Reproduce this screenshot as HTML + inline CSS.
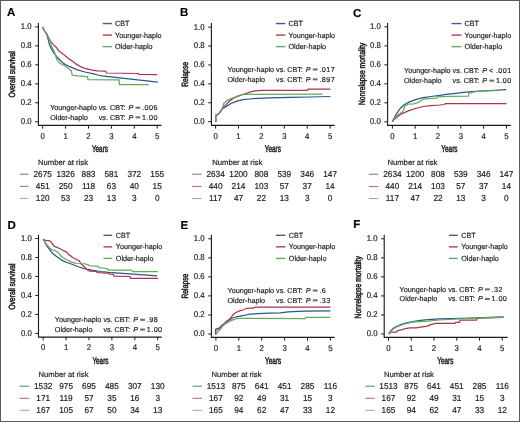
<!DOCTYPE html>
<html><head><meta charset="utf-8"><style>
html,body{margin:0;padding:0;background:#fff;}
svg{display:block;will-change:transform;filter:blur(0.35px);}
text{font-family:"Liberation Sans", sans-serif;text-rendering:geometricPrecision;stroke:#222;stroke-width:0.18px;}
</style></head><body>
<svg width="520" height="422" viewBox="0 0 520 422">
<rect x="0" y="0" width="520" height="422" fill="#fff"/>
<text x="7" y="16.2" font-size="11.5" font-weight="bold" fill="#000">A</text>
<path d="M38.4 23V125.4H161.5" fill="none" stroke="#1a1a1a" stroke-width="1.1"/>
<path d="M35.2 26.9H38.4" stroke="#1a1a1a" stroke-width="1"/>
<text transform="translate(31.7 29.3) scale(0.93 1)" font-size="8.4" text-anchor="end" fill="#222">1.0</text>
<path d="M35.2 45.88H38.4" stroke="#1a1a1a" stroke-width="1"/>
<text transform="translate(31.7 48.28) scale(0.93 1)" font-size="8.4" text-anchor="end" fill="#222">0.8</text>
<path d="M35.2 64.86H38.4" stroke="#1a1a1a" stroke-width="1"/>
<text transform="translate(31.7 67.26) scale(0.93 1)" font-size="8.4" text-anchor="end" fill="#222">0.6</text>
<path d="M35.2 83.84H38.4" stroke="#1a1a1a" stroke-width="1"/>
<text transform="translate(31.7 86.24) scale(0.93 1)" font-size="8.4" text-anchor="end" fill="#222">0.4</text>
<path d="M35.2 102.82H38.4" stroke="#1a1a1a" stroke-width="1"/>
<text transform="translate(31.7 105.22) scale(0.93 1)" font-size="8.4" text-anchor="end" fill="#222">0.2</text>
<path d="M35.2 121.8H38.4" stroke="#1a1a1a" stroke-width="1"/>
<text transform="translate(31.7 124.2) scale(0.93 1)" font-size="8.4" text-anchor="end" fill="#222">0.0</text>
<path d="M42.7 125.4V128.6" stroke="#1a1a1a" stroke-width="1"/>
<text transform="translate(42.7 138.7) scale(0.93 1)" font-size="8.4" text-anchor="middle" fill="#222">0</text>
<path d="M65.6 125.4V128.6" stroke="#1a1a1a" stroke-width="1"/>
<text transform="translate(65.6 138.7) scale(0.93 1)" font-size="8.4" text-anchor="middle" fill="#222">1</text>
<path d="M88.5 125.4V128.6" stroke="#1a1a1a" stroke-width="1"/>
<text transform="translate(88.5 138.7) scale(0.93 1)" font-size="8.4" text-anchor="middle" fill="#222">2</text>
<path d="M111.4 125.4V128.6" stroke="#1a1a1a" stroke-width="1"/>
<text transform="translate(111.4 138.7) scale(0.93 1)" font-size="8.4" text-anchor="middle" fill="#222">3</text>
<path d="M134.3 125.4V128.6" stroke="#1a1a1a" stroke-width="1"/>
<text transform="translate(134.3 138.7) scale(0.93 1)" font-size="8.4" text-anchor="middle" fill="#222">4</text>
<path d="M157.2 125.4V128.6" stroke="#1a1a1a" stroke-width="1"/>
<text transform="translate(157.2 138.7) scale(0.93 1)" font-size="8.4" text-anchor="middle" fill="#222">5</text>
<text transform="translate(99.95 152.4) scale(0.64 1)" font-size="10.0" text-anchor="middle" fill="#222" style="stroke-width:0.5px">Years</text>
<text transform="translate(15.2 74.4) rotate(-90) scale(0.755 1)" font-size="9.0" text-anchor="middle" fill="#222" style="stroke-width:0.5px">Overall survival</text>
<path d="M102.7 23.55H111.9" stroke="#4a5f88" stroke-width="1.4"/>
<text transform="translate(115 26.15) scale(0.96 1)" font-size="7.5" fill="#222">CBT</text>
<path d="M102.7 35.1H111.9" stroke="#b8395a" stroke-width="1.4"/>
<text transform="translate(115 37.7) scale(0.96 1)" font-size="7.5" fill="#222">Younger-haplo</text>
<path d="M102.7 46.65H111.9" stroke="#62ad62" stroke-width="1.4"/>
<text transform="translate(115 49.25) scale(0.96 1)" font-size="7.5" fill="#222">Older-haplo</text>
<text x="50.2" y="110.1" font-size="7.2" fill="#222">Younger-haplo</text>
<text x="98.78" y="110.1" font-size="7.2" fill="#222">vs. CBT:</text>
<text x="128.5" y="110.1" font-size="7.2" font-style="italic" fill="#222">P</text>
<rect x="135.5" y="106.7" width="4.8" height="2.1" fill="#707070"/>
<text x="142.1" y="110.1" font-size="7.2" letter-spacing="0.45" fill="#222">.006</text>
<text x="50.2" y="119.7" font-size="7.2" fill="#222">Older-haplo</text>
<text x="98.78" y="119.7" font-size="7.2" fill="#222">vs. CBT:</text>
<text x="128.5" y="119.7" font-size="7.2" font-style="italic" fill="#222">P</text>
<rect x="135.5" y="116.3" width="4.8" height="2.1" fill="#707070"/>
<text x="142.1" y="119.7" font-size="7.2" letter-spacing="0.45" fill="#222">1.00</text>
<text x="38" y="164.8" font-size="7.7" fill="#222">Number at risk</text>
<path d="M19.9 174.2H28.5" stroke="#2f5585" stroke-width="1" stroke-opacity="0.8"/>
<text transform="translate(42.7 177) scale(0.95 1)" font-size="8.7" text-anchor="middle" fill="#222">2675</text>
<text transform="translate(65.6 177) scale(0.95 1)" font-size="8.7" text-anchor="middle" fill="#222">1326</text>
<text transform="translate(88.5 177) scale(0.95 1)" font-size="8.7" text-anchor="middle" fill="#222">883</text>
<text transform="translate(111.4 177) scale(0.95 1)" font-size="8.7" text-anchor="middle" fill="#222">581</text>
<text transform="translate(134.3 177) scale(0.95 1)" font-size="8.7" text-anchor="middle" fill="#222">372</text>
<text transform="translate(157.2 177) scale(0.95 1)" font-size="8.7" text-anchor="middle" fill="#222">155</text>
<path d="M19.9 186.3H28.5" stroke="#b03050" stroke-width="1" stroke-opacity="0.8"/>
<text transform="translate(42.7 189.1) scale(0.95 1)" font-size="8.7" text-anchor="middle" fill="#222">451</text>
<text transform="translate(65.6 189.1) scale(0.95 1)" font-size="8.7" text-anchor="middle" fill="#222">250</text>
<text transform="translate(88.5 189.1) scale(0.95 1)" font-size="8.7" text-anchor="middle" fill="#222">118</text>
<text transform="translate(111.4 189.1) scale(0.95 1)" font-size="8.7" text-anchor="middle" fill="#222">63</text>
<text transform="translate(134.3 189.1) scale(0.95 1)" font-size="8.7" text-anchor="middle" fill="#222">40</text>
<text transform="translate(157.2 189.1) scale(0.95 1)" font-size="8.7" text-anchor="middle" fill="#222">15</text>
<path d="M19.9 198.4H28.5" stroke="#5faa5f" stroke-width="1" stroke-opacity="0.8"/>
<text transform="translate(42.7 201.2) scale(0.95 1)" font-size="8.7" text-anchor="middle" fill="#222">120</text>
<text transform="translate(65.6 201.2) scale(0.95 1)" font-size="8.7" text-anchor="middle" fill="#222">53</text>
<text transform="translate(88.5 201.2) scale(0.95 1)" font-size="8.7" text-anchor="middle" fill="#222">23</text>
<text transform="translate(111.4 201.2) scale(0.95 1)" font-size="8.7" text-anchor="middle" fill="#222">13</text>
<text transform="translate(134.3 201.2) scale(0.95 1)" font-size="8.7" text-anchor="middle" fill="#222">3</text>
<text transform="translate(157.2 201.2) scale(0.95 1)" font-size="8.7" text-anchor="middle" fill="#222">0</text>
<path d="M42.6 27 L44.6 31 L46.6 33.8 L48.1 39.2 L49.5 44.9 L51.8 49.6 L54.2 53.4 L57.1 57.2 L60.4 60.5 L64.2 63.9 L69.8 66.7 L77.4 69.8 L85 72 L92.6 73.6 L98 75 L102 75.8 L157.9 82.1" fill="none" stroke="#2f5585" stroke-width="1.25" stroke-linejoin="round"/>
<path d="M42.6 27 L44.6 31 L46.6 33.8 L48.5 37.5 L50.4 41.1 L53.3 44.4 L56.6 47.7 L59 51.1 L62.3 53.4 L65.1 55.8 L68.4 58.6 L72.2 61 L76 63.9 L80.5 66.7 L85 68.3 L91.1 69.8 L97.1 70.8 L105.6 71.2 L106.5 73 L138.2 73.5 L139 74.5 L157.1 74.6" fill="none" stroke="#b03050" stroke-width="1.25" stroke-linejoin="round"/>
<path d="M42.6 27 L44.6 31 L46.6 33.8 L48.5 37.5 L50.4 41.1 L51.4 45.9 L53.7 50.1 L55.6 55.3 L56.6 59.1 L58.5 62 L61.3 63.9 L64.5 65.8 L68.3 68.3 L70.6 70.5 L71.5 71 L72.1 75.1 L77.4 75.8 L86.5 76.6 L87.5 76.6 L88 79.6 L119.2 79.9 L119.4 84.6 L148.8 84.6" fill="none" stroke="#5faa5f" stroke-width="1.25" stroke-linejoin="round"/>
<text x="180" y="16.4" font-size="11.5" font-weight="bold" fill="#000">B</text>
<path d="M211.4 23V125.4H334.6" fill="none" stroke="#1a1a1a" stroke-width="1.1"/>
<path d="M208.2 27.1H211.4" stroke="#1a1a1a" stroke-width="1"/>
<text transform="translate(204.7 29.5) scale(0.93 1)" font-size="8.4" text-anchor="end" fill="#222">1.0</text>
<path d="M208.2 46.02H211.4" stroke="#1a1a1a" stroke-width="1"/>
<text transform="translate(204.7 48.42) scale(0.93 1)" font-size="8.4" text-anchor="end" fill="#222">0.8</text>
<path d="M208.2 64.94H211.4" stroke="#1a1a1a" stroke-width="1"/>
<text transform="translate(204.7 67.34) scale(0.93 1)" font-size="8.4" text-anchor="end" fill="#222">0.6</text>
<path d="M208.2 83.86H211.4" stroke="#1a1a1a" stroke-width="1"/>
<text transform="translate(204.7 86.26) scale(0.93 1)" font-size="8.4" text-anchor="end" fill="#222">0.4</text>
<path d="M208.2 102.78H211.4" stroke="#1a1a1a" stroke-width="1"/>
<text transform="translate(204.7 105.18) scale(0.93 1)" font-size="8.4" text-anchor="end" fill="#222">0.2</text>
<path d="M208.2 121.7H211.4" stroke="#1a1a1a" stroke-width="1"/>
<text transform="translate(204.7 124.1) scale(0.93 1)" font-size="8.4" text-anchor="end" fill="#222">0.0</text>
<path d="M215.6 125.4V128.6" stroke="#1a1a1a" stroke-width="1"/>
<text transform="translate(215.6 138.7) scale(0.93 1)" font-size="8.4" text-anchor="middle" fill="#222">0</text>
<path d="M238.5 125.4V128.6" stroke="#1a1a1a" stroke-width="1"/>
<text transform="translate(238.5 138.7) scale(0.93 1)" font-size="8.4" text-anchor="middle" fill="#222">1</text>
<path d="M261.4 125.4V128.6" stroke="#1a1a1a" stroke-width="1"/>
<text transform="translate(261.4 138.7) scale(0.93 1)" font-size="8.4" text-anchor="middle" fill="#222">2</text>
<path d="M284.3 125.4V128.6" stroke="#1a1a1a" stroke-width="1"/>
<text transform="translate(284.3 138.7) scale(0.93 1)" font-size="8.4" text-anchor="middle" fill="#222">3</text>
<path d="M307.2 125.4V128.6" stroke="#1a1a1a" stroke-width="1"/>
<text transform="translate(307.2 138.7) scale(0.93 1)" font-size="8.4" text-anchor="middle" fill="#222">4</text>
<path d="M330.1 125.4V128.6" stroke="#1a1a1a" stroke-width="1"/>
<text transform="translate(330.1 138.7) scale(0.93 1)" font-size="8.4" text-anchor="middle" fill="#222">5</text>
<text transform="translate(272.85 152.4) scale(0.64 1)" font-size="10.0" text-anchor="middle" fill="#222" style="stroke-width:0.5px">Years</text>
<text transform="translate(188.2 74.4) rotate(-90) scale(0.755 1)" font-size="9.0" text-anchor="middle" fill="#222" style="stroke-width:0.5px">Relapse</text>
<path d="M275.8 23.55H285.4" stroke="#4a5f88" stroke-width="1.4"/>
<text transform="translate(288.5 26.15) scale(0.96 1)" font-size="7.5" fill="#222">CBT</text>
<path d="M275.8 35.1H285.4" stroke="#b8395a" stroke-width="1.4"/>
<text transform="translate(288.5 37.7) scale(0.96 1)" font-size="7.5" fill="#222">Younger-haplo</text>
<path d="M275.8 46.65H285.4" stroke="#62ad62" stroke-width="1.4"/>
<text transform="translate(288.5 49.25) scale(0.96 1)" font-size="7.5" fill="#222">Older-haplo</text>
<text x="227.5" y="71.8" font-size="7.2" fill="#222">Younger-haplo</text>
<text x="276.08" y="71.8" font-size="7.2" fill="#222">vs. CBT:</text>
<text x="305.8" y="71.8" font-size="7.2" font-style="italic" fill="#222">P</text>
<rect x="312.8" y="68.4" width="4.8" height="2.1" fill="#707070"/>
<text x="319.4" y="71.8" font-size="7.2" letter-spacing="0.45" fill="#222">.017</text>
<text x="227.5" y="81.7" font-size="7.2" fill="#222">Older-haplo</text>
<text x="276.08" y="81.7" font-size="7.2" fill="#222">vs. CBT:</text>
<text x="305.8" y="81.7" font-size="7.2" font-style="italic" fill="#222">P</text>
<rect x="312.8" y="78.3" width="4.8" height="2.1" fill="#707070"/>
<text x="319.4" y="81.7" font-size="7.2" letter-spacing="0.45" fill="#222">.897</text>
<text x="212.3" y="164.9" font-size="7.7" fill="#222">Number at risk</text>
<path d="M192.3 174.2H201.5" stroke="#2f5585" stroke-width="1" stroke-opacity="0.8"/>
<text transform="translate(215.6 177) scale(0.95 1)" font-size="8.7" text-anchor="middle" fill="#222">2634</text>
<text transform="translate(238.5 177) scale(0.95 1)" font-size="8.7" text-anchor="middle" fill="#222">1200</text>
<text transform="translate(261.4 177) scale(0.95 1)" font-size="8.7" text-anchor="middle" fill="#222">808</text>
<text transform="translate(284.3 177) scale(0.95 1)" font-size="8.7" text-anchor="middle" fill="#222">539</text>
<text transform="translate(307.2 177) scale(0.95 1)" font-size="8.7" text-anchor="middle" fill="#222">346</text>
<text transform="translate(330.1 177) scale(0.95 1)" font-size="8.7" text-anchor="middle" fill="#222">147</text>
<path d="M192.3 186.4H201.5" stroke="#b03050" stroke-width="1" stroke-opacity="0.8"/>
<text transform="translate(215.6 189.2) scale(0.95 1)" font-size="8.7" text-anchor="middle" fill="#222">440</text>
<text transform="translate(238.5 189.2) scale(0.95 1)" font-size="8.7" text-anchor="middle" fill="#222">214</text>
<text transform="translate(261.4 189.2) scale(0.95 1)" font-size="8.7" text-anchor="middle" fill="#222">103</text>
<text transform="translate(284.3 189.2) scale(0.95 1)" font-size="8.7" text-anchor="middle" fill="#222">57</text>
<text transform="translate(307.2 189.2) scale(0.95 1)" font-size="8.7" text-anchor="middle" fill="#222">37</text>
<text transform="translate(330.1 189.2) scale(0.95 1)" font-size="8.7" text-anchor="middle" fill="#222">14</text>
<path d="M192.3 198.5H201.5" stroke="#5faa5f" stroke-width="1" stroke-opacity="0.8"/>
<text transform="translate(215.6 201.3) scale(0.95 1)" font-size="8.7" text-anchor="middle" fill="#222">117</text>
<text transform="translate(238.5 201.3) scale(0.95 1)" font-size="8.7" text-anchor="middle" fill="#222">47</text>
<text transform="translate(261.4 201.3) scale(0.95 1)" font-size="8.7" text-anchor="middle" fill="#222">22</text>
<text transform="translate(284.3 201.3) scale(0.95 1)" font-size="8.7" text-anchor="middle" fill="#222">13</text>
<text transform="translate(307.2 201.3) scale(0.95 1)" font-size="8.7" text-anchor="middle" fill="#222">3</text>
<text transform="translate(330.1 201.3) scale(0.95 1)" font-size="8.7" text-anchor="middle" fill="#222">0</text>
<path d="M215.7 122 L215.7 115.3 L217.1 114.9 L219.5 113 L222.3 108.7 L224.2 107.7 L227.1 105.9 L230.9 103.5 L234.6 102.1 L238.4 100.6 L243.2 99.7 L250 99 L258 98.3 L269 97.8 L290 97.4 L310 97 L330.4 96.5" fill="none" stroke="#2f5585" stroke-width="1.25" stroke-linejoin="round"/>
<path d="M215.7 122 L215.7 115.3 L217.1 114.9 L219.5 113 L222.3 108.7 L223.7 106.5 L225.2 105.4 L229 101.6 L232.7 98.7 L236.5 96.8 L240.3 95.4 L244.1 94 L247.9 92.8 L250 92.1 L255 90.9 L262.6 90.3 L307.3 90.3 L308 89.2 L330.4 89.2" fill="none" stroke="#b03050" stroke-width="1.25" stroke-linejoin="round"/>
<path d="M215.7 122 L215.7 115.3 L217.1 114.9 L219.5 113 L222.3 108.7 L223.7 103.5 L227.1 100.6 L231.8 98.3 L235.6 96.8 L239.4 95.4 L243.2 94.5 L247.9 94.3 L322.7 94.2" fill="none" stroke="#5faa5f" stroke-width="1.25" stroke-linejoin="round"/>
<text x="353.1" y="16.8" font-size="11.5" font-weight="bold" fill="#000">C</text>
<path d="M387.6 23V125.4H510.8" fill="none" stroke="#1a1a1a" stroke-width="1.1"/>
<path d="M384.4 26.9H387.6" stroke="#1a1a1a" stroke-width="1"/>
<text transform="translate(380.9 29.3) scale(0.93 1)" font-size="8.4" text-anchor="end" fill="#222">1.0</text>
<path d="M384.4 45.88H387.6" stroke="#1a1a1a" stroke-width="1"/>
<text transform="translate(380.9 48.28) scale(0.93 1)" font-size="8.4" text-anchor="end" fill="#222">0.8</text>
<path d="M384.4 64.86H387.6" stroke="#1a1a1a" stroke-width="1"/>
<text transform="translate(380.9 67.26) scale(0.93 1)" font-size="8.4" text-anchor="end" fill="#222">0.6</text>
<path d="M384.4 83.84H387.6" stroke="#1a1a1a" stroke-width="1"/>
<text transform="translate(380.9 86.24) scale(0.93 1)" font-size="8.4" text-anchor="end" fill="#222">0.4</text>
<path d="M384.4 102.82H387.6" stroke="#1a1a1a" stroke-width="1"/>
<text transform="translate(380.9 105.22) scale(0.93 1)" font-size="8.4" text-anchor="end" fill="#222">0.2</text>
<path d="M384.4 121.8H387.6" stroke="#1a1a1a" stroke-width="1"/>
<text transform="translate(380.9 124.2) scale(0.93 1)" font-size="8.4" text-anchor="end" fill="#222">0.0</text>
<path d="M392.4 125.4V128.6" stroke="#1a1a1a" stroke-width="1"/>
<text transform="translate(392.4 138.7) scale(0.93 1)" font-size="8.4" text-anchor="middle" fill="#222">0</text>
<path d="M415.2 125.4V128.6" stroke="#1a1a1a" stroke-width="1"/>
<text transform="translate(415.2 138.7) scale(0.93 1)" font-size="8.4" text-anchor="middle" fill="#222">1</text>
<path d="M438 125.4V128.6" stroke="#1a1a1a" stroke-width="1"/>
<text transform="translate(438 138.7) scale(0.93 1)" font-size="8.4" text-anchor="middle" fill="#222">2</text>
<path d="M460.8 125.4V128.6" stroke="#1a1a1a" stroke-width="1"/>
<text transform="translate(460.8 138.7) scale(0.93 1)" font-size="8.4" text-anchor="middle" fill="#222">3</text>
<path d="M483.6 125.4V128.6" stroke="#1a1a1a" stroke-width="1"/>
<text transform="translate(483.6 138.7) scale(0.93 1)" font-size="8.4" text-anchor="middle" fill="#222">4</text>
<path d="M506.4 125.4V128.6" stroke="#1a1a1a" stroke-width="1"/>
<text transform="translate(506.4 138.7) scale(0.93 1)" font-size="8.4" text-anchor="middle" fill="#222">5</text>
<text transform="translate(449.4 152.4) scale(0.64 1)" font-size="10.0" text-anchor="middle" fill="#222" style="stroke-width:0.5px">Years</text>
<text transform="translate(364.7 73.9) rotate(-90) scale(0.755 1)" font-size="9.0" text-anchor="middle" fill="#222" style="stroke-width:0.5px">Nonrelapse mortality</text>
<path d="M451.5 23.55H461.5" stroke="#4a5f88" stroke-width="1.4"/>
<text transform="translate(464.6 26.15) scale(0.96 1)" font-size="7.5" fill="#222">CBT</text>
<path d="M451.5 35.1H461.5" stroke="#b8395a" stroke-width="1.4"/>
<text transform="translate(464.6 37.7) scale(0.96 1)" font-size="7.5" fill="#222">Younger-haplo</text>
<path d="M451.5 46.65H461.5" stroke="#62ad62" stroke-width="1.4"/>
<text transform="translate(464.6 49.25) scale(0.96 1)" font-size="7.5" fill="#222">Older-haplo</text>
<text x="404" y="73.4" font-size="7.2" fill="#222">Younger-haplo</text>
<text x="452.58" y="73.4" font-size="7.2" fill="#222">vs. CBT:</text>
<text x="482.3" y="73.4" font-size="7.2" font-style="italic" fill="#222">P</text>
<text x="489.1" y="73.4" font-size="7.2" fill="#222">&lt;</text>
<text x="495.9" y="73.4" font-size="7.2" letter-spacing="0.45" fill="#222">.001</text>
<text x="404" y="83" font-size="7.2" fill="#222">Older-haplo</text>
<text x="452.58" y="83" font-size="7.2" fill="#222">vs. CBT:</text>
<text x="482.3" y="83" font-size="7.2" font-style="italic" fill="#222">P</text>
<rect x="489.3" y="79.6" width="4.8" height="2.1" fill="#707070"/>
<text x="495.9" y="83" font-size="7.2" letter-spacing="0.45" fill="#222">1.00</text>
<text x="387.4" y="165" font-size="7.7" fill="#222">Number at risk</text>
<path d="M368.8 174.2H378.2" stroke="#2f5585" stroke-width="1" stroke-opacity="0.8"/>
<text transform="translate(392.4 177) scale(0.95 1)" font-size="8.7" text-anchor="middle" fill="#222">2634</text>
<text transform="translate(415.2 177) scale(0.95 1)" font-size="8.7" text-anchor="middle" fill="#222">1200</text>
<text transform="translate(438 177) scale(0.95 1)" font-size="8.7" text-anchor="middle" fill="#222">808</text>
<text transform="translate(460.8 177) scale(0.95 1)" font-size="8.7" text-anchor="middle" fill="#222">539</text>
<text transform="translate(483.6 177) scale(0.95 1)" font-size="8.7" text-anchor="middle" fill="#222">346</text>
<text transform="translate(506.4 177) scale(0.95 1)" font-size="8.7" text-anchor="middle" fill="#222">147</text>
<path d="M368.8 186.6H378.2" stroke="#b03050" stroke-width="1" stroke-opacity="0.8"/>
<text transform="translate(392.4 189.4) scale(0.95 1)" font-size="8.7" text-anchor="middle" fill="#222">440</text>
<text transform="translate(415.2 189.4) scale(0.95 1)" font-size="8.7" text-anchor="middle" fill="#222">214</text>
<text transform="translate(438 189.4) scale(0.95 1)" font-size="8.7" text-anchor="middle" fill="#222">103</text>
<text transform="translate(460.8 189.4) scale(0.95 1)" font-size="8.7" text-anchor="middle" fill="#222">57</text>
<text transform="translate(483.6 189.4) scale(0.95 1)" font-size="8.7" text-anchor="middle" fill="#222">37</text>
<text transform="translate(506.4 189.4) scale(0.95 1)" font-size="8.7" text-anchor="middle" fill="#222">14</text>
<path d="M368.8 198.5H378.2" stroke="#5faa5f" stroke-width="1" stroke-opacity="0.8"/>
<text transform="translate(392.4 201.3) scale(0.95 1)" font-size="8.7" text-anchor="middle" fill="#222">117</text>
<text transform="translate(415.2 201.3) scale(0.95 1)" font-size="8.7" text-anchor="middle" fill="#222">47</text>
<text transform="translate(438 201.3) scale(0.95 1)" font-size="8.7" text-anchor="middle" fill="#222">22</text>
<text transform="translate(460.8 201.3) scale(0.95 1)" font-size="8.7" text-anchor="middle" fill="#222">13</text>
<text transform="translate(483.6 201.3) scale(0.95 1)" font-size="8.7" text-anchor="middle" fill="#222">3</text>
<text transform="translate(506.4 201.3) scale(0.95 1)" font-size="8.7" text-anchor="middle" fill="#222">0</text>
<path d="M392.3 121.6 L394.6 117.4 L397 113.1 L399.4 109.5 L400.5 108.2 L403.8 105 L407.7 102.7 L415.4 99.6 L423.1 97.7 L430.8 96.5 L440 95.3 L444.2 94.7 L453.8 93.6 L463.5 92.4 L475 91.3 L490 90.5 L506.2 89.7" fill="none" stroke="#2f5585" stroke-width="1.25" stroke-linejoin="round"/>
<path d="M392.3 121.6 L395.6 118.3 L398.5 116 L401.5 113.8 L407.7 111.2 L415.4 108.5 L423.1 106.5 L430.8 105.6 L440 105 L444.2 104.5 L445.5 103.6 L506.5 103.6" fill="none" stroke="#b03050" stroke-width="1.25" stroke-linejoin="round"/>
<path d="M392.3 121.6 L394.6 118.3 L397.5 115.5 L400.3 113.4 L402.3 112.3 L403.5 110 L404.6 106.5 L407.7 104.2 L413.8 103.8 L417.7 102.7 L420.8 100.8 L423.8 98.8 L436.9 98.1 L437.5 96.6 L468.3 96.2 L468.8 93.3 L475 91.6 L490 90.8 L498.5 90.4" fill="none" stroke="#5faa5f" stroke-width="1.25" stroke-linejoin="round"/>
<text x="7.5" y="228.8" font-size="11.5" font-weight="bold" fill="#000">D</text>
<path d="M38.5 234.8V337.1H161.7" fill="none" stroke="#1a1a1a" stroke-width="1.1"/>
<path d="M35.3 238.5H38.5" stroke="#1a1a1a" stroke-width="1"/>
<text transform="translate(31.8 240.9) scale(0.93 1)" font-size="8.4" text-anchor="end" fill="#222">1.0</text>
<path d="M35.3 257.48H38.5" stroke="#1a1a1a" stroke-width="1"/>
<text transform="translate(31.8 259.88) scale(0.93 1)" font-size="8.4" text-anchor="end" fill="#222">0.8</text>
<path d="M35.3 276.46H38.5" stroke="#1a1a1a" stroke-width="1"/>
<text transform="translate(31.8 278.86) scale(0.93 1)" font-size="8.4" text-anchor="end" fill="#222">0.6</text>
<path d="M35.3 295.44H38.5" stroke="#1a1a1a" stroke-width="1"/>
<text transform="translate(31.8 297.84) scale(0.93 1)" font-size="8.4" text-anchor="end" fill="#222">0.4</text>
<path d="M35.3 314.42H38.5" stroke="#1a1a1a" stroke-width="1"/>
<text transform="translate(31.8 316.82) scale(0.93 1)" font-size="8.4" text-anchor="end" fill="#222">0.2</text>
<path d="M35.3 333.4H38.5" stroke="#1a1a1a" stroke-width="1"/>
<text transform="translate(31.8 335.8) scale(0.93 1)" font-size="8.4" text-anchor="end" fill="#222">0.0</text>
<path d="M43.2 337.1V340.3" stroke="#1a1a1a" stroke-width="1"/>
<text transform="translate(43.2 350.4) scale(0.93 1)" font-size="8.4" text-anchor="middle" fill="#222">0</text>
<path d="M66.1 337.1V340.3" stroke="#1a1a1a" stroke-width="1"/>
<text transform="translate(66.1 350.4) scale(0.93 1)" font-size="8.4" text-anchor="middle" fill="#222">1</text>
<path d="M89 337.1V340.3" stroke="#1a1a1a" stroke-width="1"/>
<text transform="translate(89 350.4) scale(0.93 1)" font-size="8.4" text-anchor="middle" fill="#222">2</text>
<path d="M111.9 337.1V340.3" stroke="#1a1a1a" stroke-width="1"/>
<text transform="translate(111.9 350.4) scale(0.93 1)" font-size="8.4" text-anchor="middle" fill="#222">3</text>
<path d="M134.8 337.1V340.3" stroke="#1a1a1a" stroke-width="1"/>
<text transform="translate(134.8 350.4) scale(0.93 1)" font-size="8.4" text-anchor="middle" fill="#222">4</text>
<path d="M157.7 337.1V340.3" stroke="#1a1a1a" stroke-width="1"/>
<text transform="translate(157.7 350.4) scale(0.93 1)" font-size="8.4" text-anchor="middle" fill="#222">5</text>
<text transform="translate(100.45 364.1) scale(0.64 1)" font-size="10.0" text-anchor="middle" fill="#222" style="stroke-width:0.5px">Years</text>
<text transform="translate(15.2 286.6) rotate(-90) scale(0.755 1)" font-size="9.0" text-anchor="middle" fill="#222" style="stroke-width:0.5px">Overall survival</text>
<path d="M103.5 235.3H112.2" stroke="#4a5f88" stroke-width="1.4"/>
<text transform="translate(115.8 237.9) scale(0.96 1)" font-size="7.5" fill="#222">CBT</text>
<path d="M103.5 246.85H112.2" stroke="#b8395a" stroke-width="1.4"/>
<text transform="translate(115.8 249.45) scale(0.96 1)" font-size="7.5" fill="#222">Younger-haplo</text>
<path d="M103.5 258.4H112.2" stroke="#62ad62" stroke-width="1.4"/>
<text transform="translate(115.8 261) scale(0.96 1)" font-size="7.5" fill="#222">Older-haplo</text>
<text x="54.85" y="322.1" font-size="7.2" fill="#222">Younger-haplo</text>
<text x="103.43" y="322.1" font-size="7.2" fill="#222">vs. CBT:</text>
<text x="133.15" y="322.1" font-size="7.2" font-style="italic" fill="#222">P</text>
<rect x="140.15" y="318.7" width="4.8" height="2.1" fill="#707070"/>
<text x="146.75" y="322.1" font-size="7.2" letter-spacing="0.45" fill="#222">.98</text>
<text x="54.85" y="331.9" font-size="7.2" fill="#222">Older-haplo</text>
<text x="103.43" y="331.9" font-size="7.2" fill="#222">vs. CBT:</text>
<text x="133.15" y="331.9" font-size="7.2" font-style="italic" fill="#222">P</text>
<rect x="140.15" y="328.5" width="4.8" height="2.1" fill="#707070"/>
<text x="146.75" y="331.9" font-size="7.2" letter-spacing="0.45" fill="#222">1.00</text>
<text x="38.5" y="377" font-size="7.7" fill="#222">Number at risk</text>
<path d="M19.5 386.2H29.2" stroke="#2f5585" stroke-width="1" stroke-opacity="0.8"/>
<text transform="translate(43.2 389) scale(0.95 1)" font-size="8.7" text-anchor="middle" fill="#222">1532</text>
<text transform="translate(66.1 389) scale(0.95 1)" font-size="8.7" text-anchor="middle" fill="#222">975</text>
<text transform="translate(89 389) scale(0.95 1)" font-size="8.7" text-anchor="middle" fill="#222">695</text>
<text transform="translate(111.9 389) scale(0.95 1)" font-size="8.7" text-anchor="middle" fill="#222">485</text>
<text transform="translate(134.8 389) scale(0.95 1)" font-size="8.7" text-anchor="middle" fill="#222">307</text>
<text transform="translate(157.7 389) scale(0.95 1)" font-size="8.7" text-anchor="middle" fill="#222">130</text>
<path d="M19.5 398.3H29.2" stroke="#b03050" stroke-width="1" stroke-opacity="0.8"/>
<text transform="translate(43.2 401.1) scale(0.95 1)" font-size="8.7" text-anchor="middle" fill="#222">171</text>
<text transform="translate(66.1 401.1) scale(0.95 1)" font-size="8.7" text-anchor="middle" fill="#222">119</text>
<text transform="translate(89 401.1) scale(0.95 1)" font-size="8.7" text-anchor="middle" fill="#222">57</text>
<text transform="translate(111.9 401.1) scale(0.95 1)" font-size="8.7" text-anchor="middle" fill="#222">35</text>
<text transform="translate(134.8 401.1) scale(0.95 1)" font-size="8.7" text-anchor="middle" fill="#222">16</text>
<text transform="translate(157.7 401.1) scale(0.95 1)" font-size="8.7" text-anchor="middle" fill="#222">3</text>
<path d="M19.5 410.3H29.2" stroke="#5faa5f" stroke-width="1" stroke-opacity="0.8"/>
<text transform="translate(43.2 413.1) scale(0.95 1)" font-size="8.7" text-anchor="middle" fill="#222">167</text>
<text transform="translate(66.1 413.1) scale(0.95 1)" font-size="8.7" text-anchor="middle" fill="#222">105</text>
<text transform="translate(89 413.1) scale(0.95 1)" font-size="8.7" text-anchor="middle" fill="#222">67</text>
<text transform="translate(111.9 413.1) scale(0.95 1)" font-size="8.7" text-anchor="middle" fill="#222">50</text>
<text transform="translate(134.8 413.1) scale(0.95 1)" font-size="8.7" text-anchor="middle" fill="#222">34</text>
<text transform="translate(157.7 413.1) scale(0.95 1)" font-size="8.7" text-anchor="middle" fill="#222">13</text>
<path d="M43.3 239.3 L44.3 241.2 L46.6 245.5 L49.5 249.3 L52.3 253.1 L55.2 255.4 L59 258.3 L62.7 260.6 L66.5 262.5 L70 263.5 L73.8 265 L77.7 266.5 L82.3 268.1 L86.9 269.2 L93.1 270.4 L100.8 271.5 L108.5 272.3 L157.1 275.8" fill="none" stroke="#2f5585" stroke-width="1.25" stroke-linejoin="round"/>
<path d="M43.3 239.3 L45.7 240.3 L48.5 240.7 L50.4 241.2 L52.3 243.6 L54.2 246.4 L57.1 247.4 L59.9 248.8 L62.7 250.2 L65.6 251.6 L67.5 253.1 L68.4 254.5 L70.8 255.9 L73.1 257.7 L76.2 259.2 L79.2 260.8 L80.8 263.5 L83.8 266.2 L86.9 269.6 L90 271.2 L96.2 271.5 L97.7 272.7 L108.5 273.1 L109.2 274.2 L113.2 274.3 L113.9 276.1 L129.8 276.5 L130.6 278.4 L157.9 278.4" fill="none" stroke="#b03050" stroke-width="1.25" stroke-linejoin="round"/>
<path d="M43.3 239.3 L46.6 244.5 L49.5 247.8 L52.3 250 L55.2 250.7 L58 252.1 L59.9 255 L62.7 257.3 L66.5 259.7 L70.3 261.6 L74.1 262.9 L77.7 263.5 L85.4 263.8 L87.7 264.6 L90 265.8 L97.7 266.2 L99.2 267.7 L106.9 268.5 L108.5 270 L131.4 270 L132.9 271.5 L157.9 271.5" fill="none" stroke="#5faa5f" stroke-width="1.25" stroke-linejoin="round"/>
<text x="180.5" y="228.6" font-size="11.5" font-weight="bold" fill="#000">E</text>
<path d="M211.4 234.8V337.4H334.6" fill="none" stroke="#1a1a1a" stroke-width="1.1"/>
<path d="M208.2 238.8H211.4" stroke="#1a1a1a" stroke-width="1"/>
<text transform="translate(204.7 241.2) scale(0.93 1)" font-size="8.4" text-anchor="end" fill="#222">1.0</text>
<path d="M208.2 257.84H211.4" stroke="#1a1a1a" stroke-width="1"/>
<text transform="translate(204.7 260.24) scale(0.93 1)" font-size="8.4" text-anchor="end" fill="#222">0.8</text>
<path d="M208.2 276.88H211.4" stroke="#1a1a1a" stroke-width="1"/>
<text transform="translate(204.7 279.28) scale(0.93 1)" font-size="8.4" text-anchor="end" fill="#222">0.6</text>
<path d="M208.2 295.92H211.4" stroke="#1a1a1a" stroke-width="1"/>
<text transform="translate(204.7 298.32) scale(0.93 1)" font-size="8.4" text-anchor="end" fill="#222">0.4</text>
<path d="M208.2 314.96H211.4" stroke="#1a1a1a" stroke-width="1"/>
<text transform="translate(204.7 317.36) scale(0.93 1)" font-size="8.4" text-anchor="end" fill="#222">0.2</text>
<path d="M208.2 334H211.4" stroke="#1a1a1a" stroke-width="1"/>
<text transform="translate(204.7 336.4) scale(0.93 1)" font-size="8.4" text-anchor="end" fill="#222">0.0</text>
<path d="M215.9 337.4V340.6" stroke="#1a1a1a" stroke-width="1"/>
<text transform="translate(215.9 350.7) scale(0.93 1)" font-size="8.4" text-anchor="middle" fill="#222">0</text>
<path d="M238.8 337.4V340.6" stroke="#1a1a1a" stroke-width="1"/>
<text transform="translate(238.8 350.7) scale(0.93 1)" font-size="8.4" text-anchor="middle" fill="#222">1</text>
<path d="M261.7 337.4V340.6" stroke="#1a1a1a" stroke-width="1"/>
<text transform="translate(261.7 350.7) scale(0.93 1)" font-size="8.4" text-anchor="middle" fill="#222">2</text>
<path d="M284.6 337.4V340.6" stroke="#1a1a1a" stroke-width="1"/>
<text transform="translate(284.6 350.7) scale(0.93 1)" font-size="8.4" text-anchor="middle" fill="#222">3</text>
<path d="M307.5 337.4V340.6" stroke="#1a1a1a" stroke-width="1"/>
<text transform="translate(307.5 350.7) scale(0.93 1)" font-size="8.4" text-anchor="middle" fill="#222">4</text>
<path d="M330.4 337.4V340.6" stroke="#1a1a1a" stroke-width="1"/>
<text transform="translate(330.4 350.7) scale(0.93 1)" font-size="8.4" text-anchor="middle" fill="#222">5</text>
<text transform="translate(273.15 364.4) scale(0.64 1)" font-size="10.0" text-anchor="middle" fill="#222" style="stroke-width:0.5px">Years</text>
<text transform="translate(188.2 286.1) rotate(-90) scale(0.755 1)" font-size="9.0" text-anchor="middle" fill="#222" style="stroke-width:0.5px">Relapse</text>
<path d="M275.8 235.3H285.4" stroke="#4a5f88" stroke-width="1.4"/>
<text transform="translate(288.8 237.9) scale(0.96 1)" font-size="7.5" fill="#222">CBT</text>
<path d="M275.8 246.85H285.4" stroke="#b8395a" stroke-width="1.4"/>
<text transform="translate(288.8 249.45) scale(0.96 1)" font-size="7.5" fill="#222">Younger-haplo</text>
<path d="M275.8 258.4H285.4" stroke="#62ad62" stroke-width="1.4"/>
<text transform="translate(288.8 261) scale(0.96 1)" font-size="7.5" fill="#222">Older-haplo</text>
<text x="227.5" y="292.9" font-size="7.2" fill="#222">Younger-haplo</text>
<text x="276.08" y="292.9" font-size="7.2" fill="#222">vs. CBT:</text>
<text x="305.8" y="292.9" font-size="7.2" font-style="italic" fill="#222">P</text>
<rect x="312.8" y="289.5" width="4.8" height="2.1" fill="#707070"/>
<text x="319.4" y="292.9" font-size="7.2" letter-spacing="0.45" fill="#222">.6</text>
<text x="227.5" y="302.7" font-size="7.2" fill="#222">Older-haplo</text>
<text x="276.08" y="302.7" font-size="7.2" fill="#222">vs. CBT:</text>
<text x="305.8" y="302.7" font-size="7.2" font-style="italic" fill="#222">P</text>
<rect x="312.8" y="299.3" width="4.8" height="2.1" fill="#707070"/>
<text x="319.4" y="302.7" font-size="7.2" letter-spacing="0.45" fill="#222">.33</text>
<text x="211.5" y="377" font-size="7.7" fill="#222">Number at risk</text>
<path d="M192.6 386.2H202" stroke="#2f5585" stroke-width="1" stroke-opacity="0.8"/>
<text transform="translate(215.9 389) scale(0.95 1)" font-size="8.7" text-anchor="middle" fill="#222">1513</text>
<text transform="translate(238.8 389) scale(0.95 1)" font-size="8.7" text-anchor="middle" fill="#222">875</text>
<text transform="translate(261.7 389) scale(0.95 1)" font-size="8.7" text-anchor="middle" fill="#222">641</text>
<text transform="translate(284.6 389) scale(0.95 1)" font-size="8.7" text-anchor="middle" fill="#222">451</text>
<text transform="translate(307.5 389) scale(0.95 1)" font-size="8.7" text-anchor="middle" fill="#222">285</text>
<text transform="translate(330.4 389) scale(0.95 1)" font-size="8.7" text-anchor="middle" fill="#222">116</text>
<path d="M192.6 398.3H202" stroke="#b03050" stroke-width="1" stroke-opacity="0.8"/>
<text transform="translate(215.9 401.1) scale(0.95 1)" font-size="8.7" text-anchor="middle" fill="#222">167</text>
<text transform="translate(238.8 401.1) scale(0.95 1)" font-size="8.7" text-anchor="middle" fill="#222">92</text>
<text transform="translate(261.7 401.1) scale(0.95 1)" font-size="8.7" text-anchor="middle" fill="#222">49</text>
<text transform="translate(284.6 401.1) scale(0.95 1)" font-size="8.7" text-anchor="middle" fill="#222">31</text>
<text transform="translate(307.5 401.1) scale(0.95 1)" font-size="8.7" text-anchor="middle" fill="#222">15</text>
<text transform="translate(330.4 401.1) scale(0.95 1)" font-size="8.7" text-anchor="middle" fill="#222">3</text>
<path d="M192.6 410.3H202" stroke="#5faa5f" stroke-width="1" stroke-opacity="0.8"/>
<text transform="translate(215.9 413.1) scale(0.95 1)" font-size="8.7" text-anchor="middle" fill="#222">165</text>
<text transform="translate(238.8 413.1) scale(0.95 1)" font-size="8.7" text-anchor="middle" fill="#222">94</text>
<text transform="translate(261.7 413.1) scale(0.95 1)" font-size="8.7" text-anchor="middle" fill="#222">62</text>
<text transform="translate(284.6 413.1) scale(0.95 1)" font-size="8.7" text-anchor="middle" fill="#222">47</text>
<text transform="translate(307.5 413.1) scale(0.95 1)" font-size="8.7" text-anchor="middle" fill="#222">33</text>
<text transform="translate(330.4 413.1) scale(0.95 1)" font-size="8.7" text-anchor="middle" fill="#222">12</text>
<path d="M215.7 334.6 L215.7 329.4 L218.1 328.9 L220.4 327 L222.3 325.1 L224.2 323.7 L226.6 321.8 L229.9 319.4 L233.7 317.5 L236.5 316.9 L241.3 315.9 L246 315 L250 314.2 L258.1 313.6 L269 313.2 L280.4 312.8 L288.1 311.8 L305 311.2 L330.4 310.8" fill="none" stroke="#2f5585" stroke-width="1.25" stroke-linejoin="round"/>
<path d="M215.7 334.6 L215.7 329.4 L218.1 328.9 L220.4 327 L222.3 325.1 L224.2 323.7 L226.6 321.3 L229.9 319 L232.7 315.2 L235.6 312.8 L239.4 310.9 L243.2 310 L247 308.3 L250 308.1 L253.5 308.1 L255 307.2 L330.4 307.2" fill="none" stroke="#b03050" stroke-width="1.25" stroke-linejoin="round"/>
<path d="M215.7 334.6 L218.1 331.5 L220.4 329 L222.3 326.5 L224.2 324.6 L228 322.3 L231.8 320.4 L235.6 319 L239.4 318.3 L250 318.3 L305.3 318.5 L305.8 317.4 L330.4 317.4" fill="none" stroke="#5faa5f" stroke-width="1.25" stroke-linejoin="round"/>
<text x="353.3" y="228.3" font-size="11.5" font-weight="bold" fill="#000">F</text>
<path d="M384.2 234.8V337.4H507.7" fill="none" stroke="#1a1a1a" stroke-width="1.1"/>
<path d="M381 238.8H384.2" stroke="#1a1a1a" stroke-width="1"/>
<text transform="translate(377.5 241.2) scale(0.93 1)" font-size="8.4" text-anchor="end" fill="#222">1.0</text>
<path d="M381 257.84H384.2" stroke="#1a1a1a" stroke-width="1"/>
<text transform="translate(377.5 260.24) scale(0.93 1)" font-size="8.4" text-anchor="end" fill="#222">0.8</text>
<path d="M381 276.88H384.2" stroke="#1a1a1a" stroke-width="1"/>
<text transform="translate(377.5 279.28) scale(0.93 1)" font-size="8.4" text-anchor="end" fill="#222">0.6</text>
<path d="M381 295.92H384.2" stroke="#1a1a1a" stroke-width="1"/>
<text transform="translate(377.5 298.32) scale(0.93 1)" font-size="8.4" text-anchor="end" fill="#222">0.4</text>
<path d="M381 314.96H384.2" stroke="#1a1a1a" stroke-width="1"/>
<text transform="translate(377.5 317.36) scale(0.93 1)" font-size="8.4" text-anchor="end" fill="#222">0.2</text>
<path d="M381 334H384.2" stroke="#1a1a1a" stroke-width="1"/>
<text transform="translate(377.5 336.4) scale(0.93 1)" font-size="8.4" text-anchor="end" fill="#222">0.0</text>
<path d="M388.5 337.4V340.6" stroke="#1a1a1a" stroke-width="1"/>
<text transform="translate(388.5 350.7) scale(0.93 1)" font-size="8.4" text-anchor="middle" fill="#222">0</text>
<path d="M411.25 337.4V340.6" stroke="#1a1a1a" stroke-width="1"/>
<text transform="translate(411.25 350.7) scale(0.93 1)" font-size="8.4" text-anchor="middle" fill="#222">1</text>
<path d="M434 337.4V340.6" stroke="#1a1a1a" stroke-width="1"/>
<text transform="translate(434 350.7) scale(0.93 1)" font-size="8.4" text-anchor="middle" fill="#222">2</text>
<path d="M456.75 337.4V340.6" stroke="#1a1a1a" stroke-width="1"/>
<text transform="translate(456.75 350.7) scale(0.93 1)" font-size="8.4" text-anchor="middle" fill="#222">3</text>
<path d="M479.5 337.4V340.6" stroke="#1a1a1a" stroke-width="1"/>
<text transform="translate(479.5 350.7) scale(0.93 1)" font-size="8.4" text-anchor="middle" fill="#222">4</text>
<path d="M502.25 337.4V340.6" stroke="#1a1a1a" stroke-width="1"/>
<text transform="translate(502.25 350.7) scale(0.93 1)" font-size="8.4" text-anchor="middle" fill="#222">5</text>
<text transform="translate(445.38 364.4) scale(0.64 1)" font-size="10.0" text-anchor="middle" fill="#222" style="stroke-width:0.5px">Years</text>
<text transform="translate(360.9 287.3) rotate(-90) scale(0.755 1)" font-size="9.0" text-anchor="middle" fill="#222" style="stroke-width:0.5px">Nonrelapse mortality</text>
<path d="M448.9 235.3H457.7" stroke="#4a5f88" stroke-width="1.4"/>
<text transform="translate(461.2 237.9) scale(0.96 1)" font-size="7.5" fill="#222">CBT</text>
<path d="M448.9 246.85H457.7" stroke="#b8395a" stroke-width="1.4"/>
<text transform="translate(461.2 249.45) scale(0.96 1)" font-size="7.5" fill="#222">Younger-haplo</text>
<path d="M448.9 258.4H457.7" stroke="#62ad62" stroke-width="1.4"/>
<text transform="translate(461.2 261) scale(0.96 1)" font-size="7.5" fill="#222">Older-haplo</text>
<text x="399.6" y="291.7" font-size="7.2" fill="#222">Younger-haplo</text>
<text x="448.18" y="291.7" font-size="7.2" fill="#222">vs. CBT:</text>
<text x="477.9" y="291.7" font-size="7.2" font-style="italic" fill="#222">P</text>
<rect x="484.9" y="288.3" width="4.8" height="2.1" fill="#707070"/>
<text x="491.5" y="291.7" font-size="7.2" letter-spacing="0.45" fill="#222">.32</text>
<text x="399.6" y="301.3" font-size="7.2" fill="#222">Older-haplo</text>
<text x="448.18" y="301.3" font-size="7.2" fill="#222">vs. CBT:</text>
<text x="477.9" y="301.3" font-size="7.2" font-style="italic" fill="#222">P</text>
<rect x="484.9" y="297.9" width="4.8" height="2.1" fill="#707070"/>
<text x="491.5" y="301.3" font-size="7.2" letter-spacing="0.45" fill="#222">1.00</text>
<text x="383.9" y="377" font-size="7.7" fill="#222">Number at risk</text>
<path d="M365.3 386.2H374.7" stroke="#2f5585" stroke-width="1" stroke-opacity="0.8"/>
<text transform="translate(388.5 389) scale(0.95 1)" font-size="8.7" text-anchor="middle" fill="#222">1513</text>
<text transform="translate(411.25 389) scale(0.95 1)" font-size="8.7" text-anchor="middle" fill="#222">875</text>
<text transform="translate(434 389) scale(0.95 1)" font-size="8.7" text-anchor="middle" fill="#222">641</text>
<text transform="translate(456.75 389) scale(0.95 1)" font-size="8.7" text-anchor="middle" fill="#222">451</text>
<text transform="translate(479.5 389) scale(0.95 1)" font-size="8.7" text-anchor="middle" fill="#222">285</text>
<text transform="translate(502.25 389) scale(0.95 1)" font-size="8.7" text-anchor="middle" fill="#222">116</text>
<path d="M365.3 398.3H374.7" stroke="#b03050" stroke-width="1" stroke-opacity="0.8"/>
<text transform="translate(388.5 401.1) scale(0.95 1)" font-size="8.7" text-anchor="middle" fill="#222">167</text>
<text transform="translate(411.25 401.1) scale(0.95 1)" font-size="8.7" text-anchor="middle" fill="#222">92</text>
<text transform="translate(434 401.1) scale(0.95 1)" font-size="8.7" text-anchor="middle" fill="#222">49</text>
<text transform="translate(456.75 401.1) scale(0.95 1)" font-size="8.7" text-anchor="middle" fill="#222">31</text>
<text transform="translate(479.5 401.1) scale(0.95 1)" font-size="8.7" text-anchor="middle" fill="#222">15</text>
<text transform="translate(502.25 401.1) scale(0.95 1)" font-size="8.7" text-anchor="middle" fill="#222">3</text>
<path d="M365.3 410.3H374.7" stroke="#5faa5f" stroke-width="1" stroke-opacity="0.8"/>
<text transform="translate(388.5 413.1) scale(0.95 1)" font-size="8.7" text-anchor="middle" fill="#222">165</text>
<text transform="translate(411.25 413.1) scale(0.95 1)" font-size="8.7" text-anchor="middle" fill="#222">94</text>
<text transform="translate(434 413.1) scale(0.95 1)" font-size="8.7" text-anchor="middle" fill="#222">62</text>
<text transform="translate(456.75 413.1) scale(0.95 1)" font-size="8.7" text-anchor="middle" fill="#222">47</text>
<text transform="translate(479.5 413.1) scale(0.95 1)" font-size="8.7" text-anchor="middle" fill="#222">33</text>
<text transform="translate(502.25 413.1) scale(0.95 1)" font-size="8.7" text-anchor="middle" fill="#222">12</text>
<path d="M388.6 334 L391.7 329.7 L394.7 327.2 L399.3 325.2 L405.3 323.1 L412.9 321.5 L420.5 320.3 L428.1 319.7 L439 318.8 L470 318 L503.5 316.9" fill="none" stroke="#2f5585" stroke-width="1.25" stroke-linejoin="round"/>
<path d="M388.6 334 L390.9 332.2 L396.2 332.2 L397.7 330.6 L402.3 329.7 L405.3 328.7 L409.9 327.9 L416 327.9 L420.5 327.2 L426.6 326.4 L429.6 325.2 L432.6 324.1 L435.7 323.3 L455 323.3 L455.5 322.3 L459.6 322.3 L460 320 L476.5 320 L477 318.2 L503.5 317.5" fill="none" stroke="#b03050" stroke-width="1.25" stroke-linejoin="round"/>
<path d="M388.6 334 L391.7 330.2 L394.7 327.9 L399.3 325.8 L405.3 323.7 L412.9 322.2 L420.5 321.6 L428.1 321.2 L439 320 L470 318.3 L503.5 317.2" fill="none" stroke="#5faa5f" stroke-width="1.25" stroke-linejoin="round"/>
<rect x="0.5" y="0.5" width="519" height="421" fill="none" stroke="#5a5a5a" stroke-width="1"/>
</svg>
</body></html>
